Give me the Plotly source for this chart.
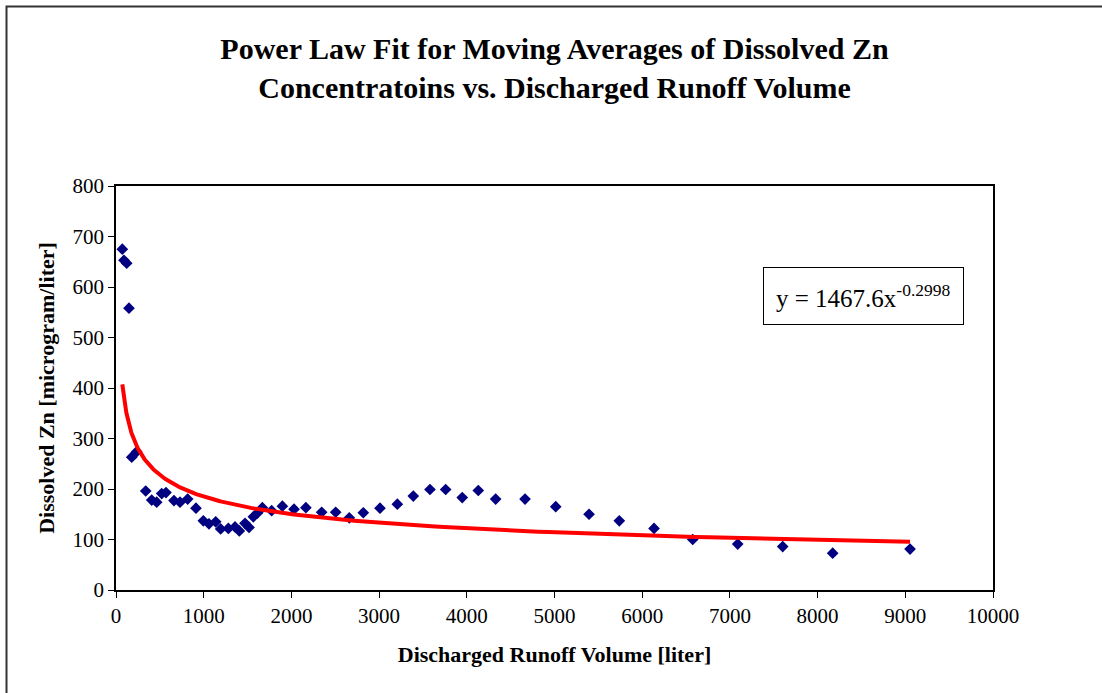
import numpy as np
import plotly.graph_objects as go

# Cumulative discharged runoff volume [liter] and moving-average dissolved Zn [microgram/liter]
volume_l = [72, 91, 122, 148, 179, 236, 339, 407, 464, 521, 570, 661, 730, 817, 912,
            996, 1060, 1137, 1193, 1281, 1357, 1406, 1471, 1517, 1566, 1611, 1669, 1775,
            1897, 2030, 2165, 2345, 2505, 2660, 2820, 3010, 3208, 3390, 3580, 3759, 3948,
            4131, 4329, 4664, 5014, 5394, 5739, 6135, 6576, 7089, 7602, 8172, 9054]
zn_avg = [675, 653, 647, 558, 263, 274, 196, 178, 174, 191, 193, 177, 174, 180, 162,
          137, 131, 135, 121, 122, 125, 117, 132, 124, 145, 152, 163, 157, 166, 160,
          163, 154, 154, 143, 153, 162, 170, 186, 199, 199, 183, 197, 180, 180, 165,
          150, 137, 122, 100, 91, 86, 73, 81]

# Power-law trendline coefficients: y = a * x^b
fit_a = 1467.6
fit_b = -0.2998

x_ticks = list(range(0, 10001, 1000))
y_ticks = list(range(0, 801, 100))

fit_x = np.geomspace(min(volume_l), max(volume_l), 200)
fit_y = fit_a * fit_x ** fit_b

SERIF = "Liberation Serif, Times New Roman, serif"

fig = go.Figure()
fig.add_trace(go.Scatter(
    x=volume_l, y=zn_avg, mode="markers",
    marker=dict(symbol="diamond", size=9, color="#000080"),
    hoverinfo="x+y", showlegend=False,
))
fig.add_trace(go.Scatter(
    x=fit_x, y=fit_y, mode="lines",
    line=dict(color="#FF0000", width=4),
    hoverinfo="skip", showlegend=False,
))

# plot area occupies x 116..993, y 186..590 of the 1102x693 page
L, R, T, B = 116, 993, 186, 590
W, H = R - L, B - T


def px(x):
    return (x - L) / W


def py(y):
    return (B - y) / H


fig.update_layout(
    width=1102, height=693,
    margin=dict(l=L, r=1102 - R, t=T, b=693 - B, autoexpand=False),
    paper_bgcolor="white", plot_bgcolor="white",
    font=dict(family=SERIF, color="black"),
    title=dict(
        text="Power Law Fit for Moving Averages of Dissolved Zn<br>Concentratoins vs. Discharged Runoff Volume",
        font=dict(family=SERIF, size=30, color="black", weight="bold"),
        x=0.5, xanchor="center", xref="paper",
        y=1 - 59 / 693, yanchor="middle", yref="container",
    ),
    xaxis=dict(
        range=[0, 10000], tickvals=x_ticks, ticktext=[str(v) for v in x_ticks],
        showgrid=False, zeroline=False,
        showline=True, linecolor="black", linewidth=1.5, mirror=True,
        ticks="outside", ticklen=6, tickcolor="black", tickwidth=1,
        tickfont=dict(family=SERIF, size=21, color="black"),
        title=dict(text="<b>Discharged Runoff Volume [liter]</b>",
                   font=dict(family=SERIF, size=22, color="black"), standoff=20),
    ),
    yaxis=dict(
        range=[0, 800], tickvals=y_ticks, ticktext=[str(v) for v in y_ticks],
        showgrid=False, zeroline=False,
        showline=True, linecolor="black", linewidth=1.5, mirror=True,
        ticks="outside", ticklen=6, tickcolor="black", tickwidth=1,
        tickfont=dict(family=SERIF, size=21, color="black"),
        title=dict(text="<b>Dissolved Zn [microgram/liter]</b>",
                   font=dict(family=SERIF, size=22, color="black"), standoff=12),
    ),
    annotations=[dict(
        text="y = 1467.6x<sup>-0.2998</sup>",
        xref="paper", yref="paper", x=px(863.5), y=py(296),
        xanchor="center", yanchor="middle", showarrow=False,
        font=dict(family=SERIF, size=25, color="black"),
        bordercolor="black", borderwidth=1, borderpad=12, bgcolor="white",
    )],
    shapes=[
        # outer chart frame (left and top edges visible on the page)
        dict(type="rect", xref="paper", yref="paper",
             x0=px(6.5), x1=px(1110), y0=py(700), y1=py(6.5),
             line=dict(color="#333333", width=2), layer="below"),
    ],
)

fig.write_html("out.html")
